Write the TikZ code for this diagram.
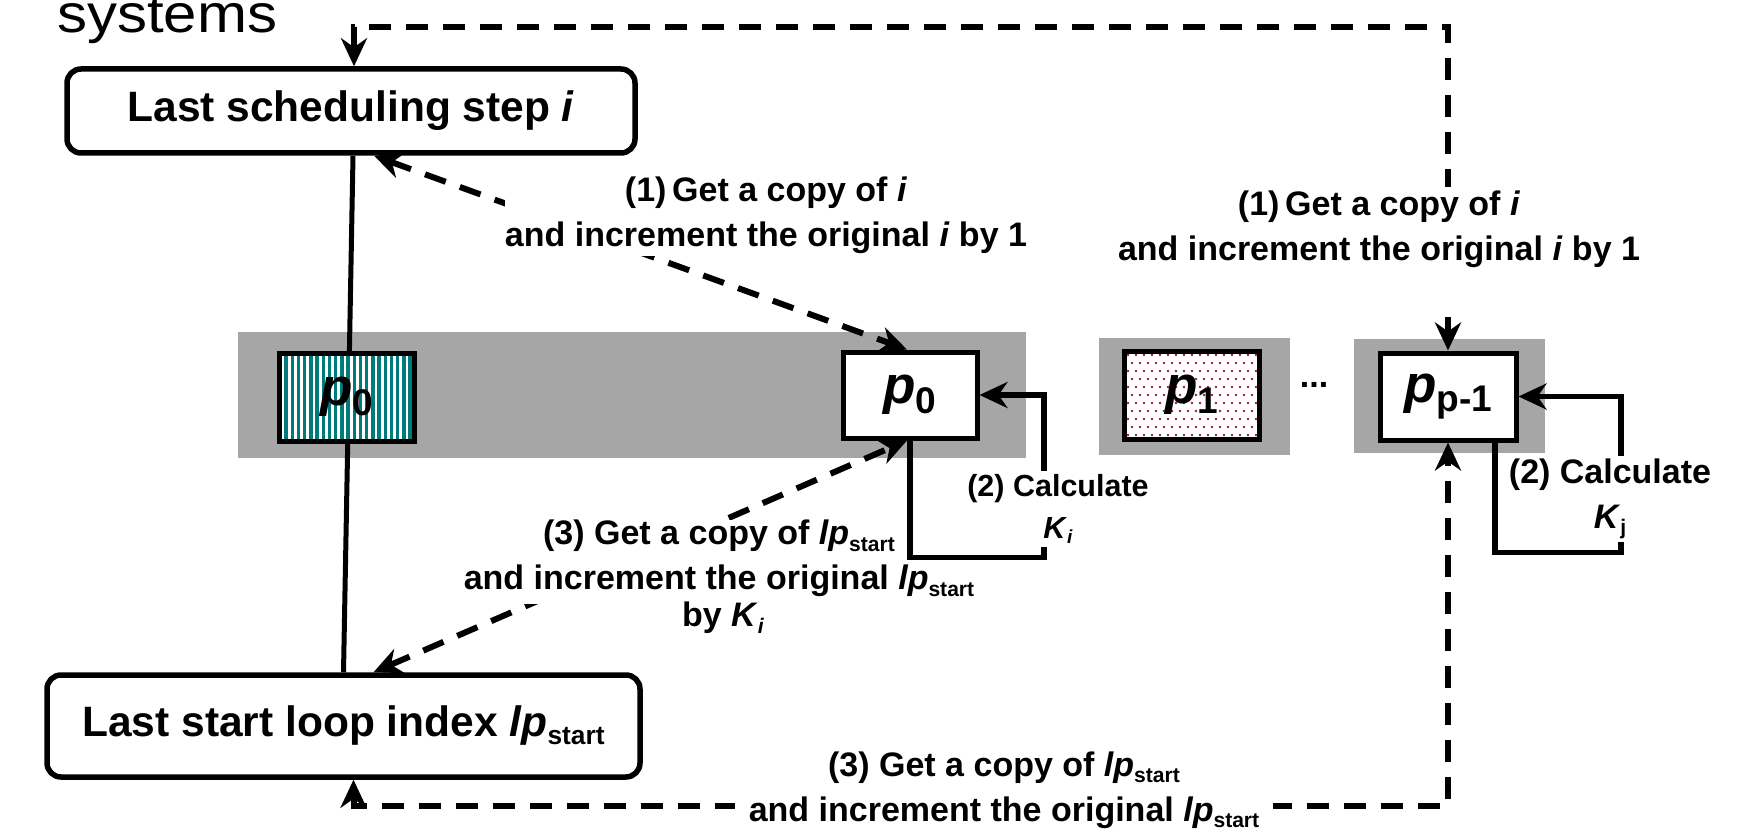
\documentclass[tikz,border=0pt]{standalone}
\usepackage{fontspec}
\setmainfont{Liberation Sans}
\usepackage{graphicx}
\usetikzlibrary{arrows.meta,calc}
\definecolor{bandgray}{RGB}{166,166,166}
\definecolor{hatchteal}{RGB}{0,122,122}
\definecolor{dotred}{RGB}{160,20,60}
\newcommand{\sbx}[1]{\raisebox{-0.35ex}{\scalebox{0.62}{#1}}}
\newcommand{\psb}[1]{\raisebox{-0.35ex}{\scalebox{0.7}{#1}}}
\newcommand{\lpst}{{\itshape lp}\sbx{start}}
\begin{document}
\begin{tikzpicture}[x=1pt,y=-1pt,
  >={Stealth[length=28pt,width=26pt,inset=9pt]},
  lbl/.style={font=\fontsize{34}{45}\selectfont\bfseries, align=center, inner sep=3pt},
  wl/.style={lbl, fill=white},
  boxtxt/.style={font=\fontsize{42.5}{50}\selectfont\bfseries},
  rbox/.style={draw, line width=5.5pt, rounded corners=14pt, fill=white, inner sep=0pt, boxtxt},
  pbox/.style={draw, line width=5pt, inner sep=0pt, font=\fontsize{53}{60}\selectfont\bfseries},
  conn/.style={line width=5.5pt},
  dconn/.style={line width=6pt, dash pattern=on 22pt off 15pt}]
\fill[white] (0,0) rectangle (1752,837);
\useasboundingbox (0,0) rectangle (1752,837);
% gray bands
\fill[bandgray] (238,332) rectangle (1026,458);
\fill[bandgray] (1099,338) rectangle (1290,455);
\fill[bandgray] (1354,339) rectangle (1545,453);
% main boxes
\node[rbox, minimum width=568pt, minimum height=84pt] (top) at (351,111) {Last scheduling step \textit{i}};
\node[rbox, minimum width=593pt, minimum height=102pt] (bot) at (343.5,726) {Last start loop index \lpst};
\draw[line width=5pt] ([xshift=2pt]top.south) -- (bot.north);
% processor boxes
\node[pbox, fill=hatchteal, minimum width=135pt, minimum height=88pt,
  path picture={\foreach \i in {0,...,21}{\fill[white] ([xshift={2.5pt+\i*6.2pt}]path picture bounding box.south west) rectangle ([xshift={5.3pt+\i*6.2pt}]path picture bounding box.north west);}}]
  (ph) at (346.5,397) {\textit{p}\psb{0}};
\node[pbox, fill=white, minimum width=134pt, minimum height=86pt] (pw) at (910,395) {\textit{p}\psb{0}};
\node[pbox, fill=white, minimum width=135pt, minimum height=88pt,
  path picture={\foreach \a in {0,...,16}{\foreach \b in {0,...,10}{\fill[dotred] ([xshift={4pt+\a*8pt+mod(\b,2)*4pt}, yshift={-4pt-\b*8pt}]path picture bounding box.north west) circle[radius=1.3pt];}}}]
  (p1) at (1191.5,395) {\textit{p}\psb{1}};
\node[pbox, fill=white, minimum width=136pt, minimum height=87pt] (pp) at (1448,396.5) {\textit{p}\psb{p-1}};
% dashed connectors
\coordinate (tc) at (1448,27);
\coordinate (bc) at (1448,806);
\draw[dconn,<->] ([xshift=3pt]top.north) |- (tc) -- (pp.north);
\draw[dconn,<->] ([xshift=10pt]bot.south) |- (bc) -- (pp.south);
\draw[dconn,<->] ([xshift=23pt]top.south) -- ([xshift=-3pt]pw.north);
\draw[dconn,<->] ([xshift=30pt]bot.north) -- ([xshift=-3pt]pw.south);
% labels over dashed lines
\node[wl, inner xsep=0pt] (l1a) at (766,215) {(1)\,Get a copy of \textit{i}\\and increment the original \textit{i} by 1};
\node[wl, inner ysep=4pt] (l1b) at (1379,246) {(1)\,Get a copy of \textit{i}\\and increment the original \textit{i} by 1\rule[-40pt]{0pt}{0pt}};
\node[wl, inner ysep=0pt] (l3a) at (719,562) {(3) Get a copy of \lpst\\and increment the original \lpst\rule[-14pt]{0pt}{0pt}};
\node[lbl] (l3c) at (723,618) {by \textit{K}\sbx{\textit{i}}};
\node[wl, inner xsep=14pt] (l3b) at (1004,790) {(3) Get a copy of \lpst\\and increment the original \lpst};
% feedback loops
\draw[conn,->] (pw.south) |- ++(134,117) |- (pw.east);
\draw[conn,->] ([xshift=47pt]pp.south) |- ++(126,110) |- (pp.east);
\node[wl, font=\fontsize{30.5}{42}\selectfont\bfseries] (l2a) at (1058,509) {(2) Calculate\\\textit{K}\sbx{\textit{i}}};
\node[wl] (l2b) at (1610,499) {(2) Calculate\\\textit{K}\sbx{j}};
% other text
\node[anchor=base west, inner sep=0pt, font=\fontsize{60}{70}\selectfont] (sys) at (57,33) {\scalebox{1}[0.9]{systems}};
\node[lbl] (dots) at (1314,385) {...};
\end{tikzpicture}
\end{document}
